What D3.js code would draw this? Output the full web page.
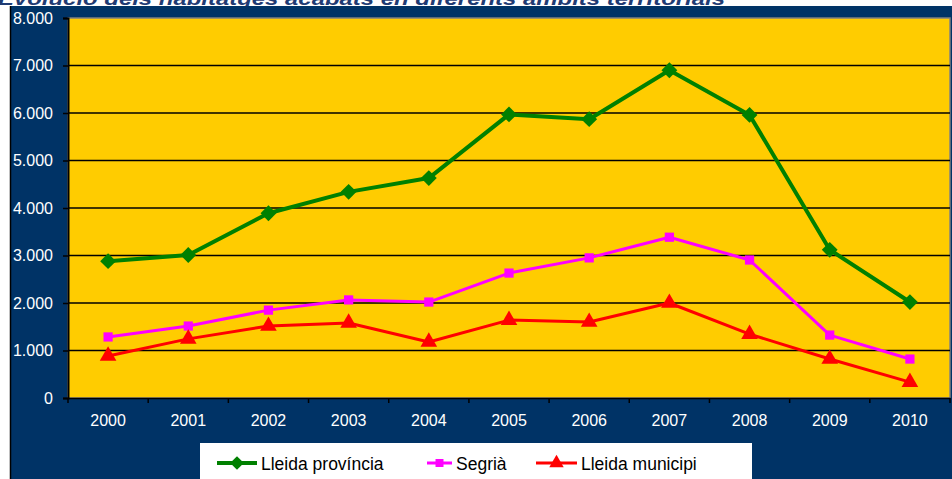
<!DOCTYPE html>
<html>
<head>
<meta charset="utf-8">
<script src="https://cdn.jsdelivr.net/npm/d3@7"></script>
<style>
  body { margin: 0; background: #fff; }
  svg { display: block; font-family: "Liberation Sans", Arial, sans-serif; }
</style>
</head>
<body>
<div id="chart"></div>
<script>
// Data
var years = ["2000", "2001", "2002", "2003", "2004", "2005", "2006", "2007", "2008", "2009", "2010"];
var provincia = [2880, 3010, 3890, 4340, 4630, 5970, 5870, 6900, 5960, 3120, 2020];
var segria = [1285, 1515, 1850, 2065, 2020, 2630, 2950, 3385, 2905, 1325, 820];
var municipi = [885, 1245, 1515, 1580, 1180, 1640, 1600, 2000, 1345, 820, 335];
var yTicks = [0, 1000, 2000, 3000, 4000, 5000, 6000, 7000, 8000];

var series = [
  { name: "Lleida província", values: provincia, color: "#008000", width: 4, marker: "diamond" },
  { name: "Segrià", values: segria, color: "#FF00FF", width: 3, marker: "square" },
  { name: "Lleida municipi", values: municipi, color: "#FF0000", width: 3, marker: "triangle" }
];

var width = 952, height = 479;
var plot = { left: 68, right: 950, top: 18, bottom: 398 };

var svg = d3.select("#chart").append("svg")
  .attr("width", width)
  .attr("height", height);

// Title, cut off at the top as in the source
svg.append("text")
  .attr("x", -2)
  .attr("y", 5)
  .attr("textLength", 727)
  .attr("lengthAdjust", "spacingAndGlyphs")
  .style("font-size", "18px")
  .style("font-weight", "bold")
  .style("font-style", "italic")
  .style("fill", "#1F3B73")
  .text("Evolució dels habitatges acabats en diferents àmbits territorials");

// Dark blue panel
svg.append("rect")
  .attr("x", 10).attr("y", 6)
  .attr("width", width - 10).attr("height", height - 6)
  .attr("fill", "#003366");
svg.append("line")
  .attr("x1", 10.5).attr("x2", 10.5)
  .attr("y1", 6).attr("y2", height)
  .attr("stroke", "#000").attr("stroke-width", 1.5);

// Plot background
svg.append("rect")
  .attr("x", plot.left).attr("y", plot.top)
  .attr("width", plot.right - plot.left).attr("height", plot.bottom - plot.top)
  .attr("fill", "#FFCC00")
  .attr("stroke", "#808080").attr("stroke-width", 1.5);

// Scales
var x = d3.scaleBand()
  .domain(years)
  .range([plot.left, plot.right]);

var y = d3.scaleLinear()
  .domain([0, 8000])
  .range([plot.bottom, plot.top]);

// Gridlines
svg.append("g")
  .selectAll("line")
  .data(yTicks.filter(function(d) { return d > 0 && d < 8000; }))
  .enter().append("line")
  .attr("x1", plot.left).attr("x2", plot.right)
  .attr("y1", function(d) { return y(d); })
  .attr("y2", function(d) { return y(d); })
  .attr("stroke", "#000").attr("stroke-width", 1.5);

// Y axis
var yAxis = d3.axisLeft(y)
  .tickValues(yTicks)
  .tickSize(5)
  .tickPadding(10)
  .tickFormat(function(d) { return d3.format(",")(d).replace(/,/g, "."); });

var yG = svg.append("g")
  .attr("transform", "translate(" + plot.left + ",0)")
  .call(yAxis);
yG.attr("font-size", null).attr("font-family", null);
yG.select(".domain").attr("stroke", "#000").attr("stroke-width", 2);
yG.selectAll(".tick line").attr("stroke", "#000").attr("stroke-width", 1.5);
yG.selectAll("text").style("fill", "#fff").style("font-size", "16px");

// X axis
var xAxis = d3.axisBottom(x).tickSize(0).tickPadding(17);
var xG = svg.append("g")
  .attr("transform", "translate(0," + plot.bottom + ")")
  .call(xAxis);
xG.attr("font-size", null).attr("font-family", null);
xG.select(".domain").attr("stroke", "#000").attr("stroke-width", 1.5);
xG.selectAll("text").style("fill", "#fff").style("font-size", "16px");

// Tick marks between categories
svg.append("g")
  .selectAll("line")
  .data(years.concat(["end"]))
  .enter().append("line")
  .attr("x1", function(d, i) { return plot.left + i * x.bandwidth(); })
  .attr("x2", function(d, i) { return plot.left + i * x.bandwidth(); })
  .attr("y1", plot.bottom)
  .attr("y2", plot.bottom + 5)
  .attr("stroke", "#000").attr("stroke-width", 1.5);

// Marker shapes
function markerPath(type, size) {
  if (type === "diamond") return d3.symbol().type(d3.symbolDiamond2).size(size)();
  if (type === "square") return d3.symbol().type(d3.symbolSquare).size(size)();
  return d3.symbol().type(d3.symbolTriangle).size(size)();
}
var markerSize = { diamond: 160, square: 85, triangle: 120 };

var line = d3.line()
  .x(function(d, i) { return x(years[i]) + x.bandwidth() / 2; })
  .y(function(d) { return y(d); });

series.forEach(function(s) {
  svg.append("path")
    .datum(s.values)
    .attr("d", line)
    .attr("fill", "none")
    .attr("stroke", s.color)
    .attr("stroke-width", s.width)
    .attr("stroke-linejoin", "round");

  svg.append("g")
    .selectAll("path")
    .data(s.values)
    .enter().append("path")
    .attr("d", markerPath(s.marker, markerSize[s.marker]))
    .attr("transform", function(d, i) {
      return "translate(" + (x(years[i]) + x.bandwidth() / 2) + "," + y(d) + ")";
    })
    .attr("fill", s.color);
});

// Legend
var legend = svg.append("g");
legend.append("rect")
  .attr("x", 200).attr("y", 443)
  .attr("width", 552).attr("height", 40)
  .attr("fill", "#fff");

var legendX = [217, 427, 536];
var legendW = [40, 25, 41];
series.forEach(function(s, i) {
  var g = legend.append("g");
  g.append("line")
    .attr("x1", legendX[i]).attr("x2", legendX[i] + legendW[i])
    .attr("y1", 463).attr("y2", 463)
    .attr("stroke", s.color).attr("stroke-width", s.width);
  g.append("path")
    .attr("d", markerPath(s.marker, markerSize[s.marker] * 0.75))
    .attr("transform", "translate(" + (legendX[i] + legendW[i] / 2) + ",463)")
    .attr("fill", s.color);
  g.append("text")
    .attr("x", legendX[i] + legendW[i] + 4)
    .attr("y", 470)
    .style("font-size", "17.5px")
    .style("fill", "#000")
    .text(s.name);
});
</script>
</body>
</html>
